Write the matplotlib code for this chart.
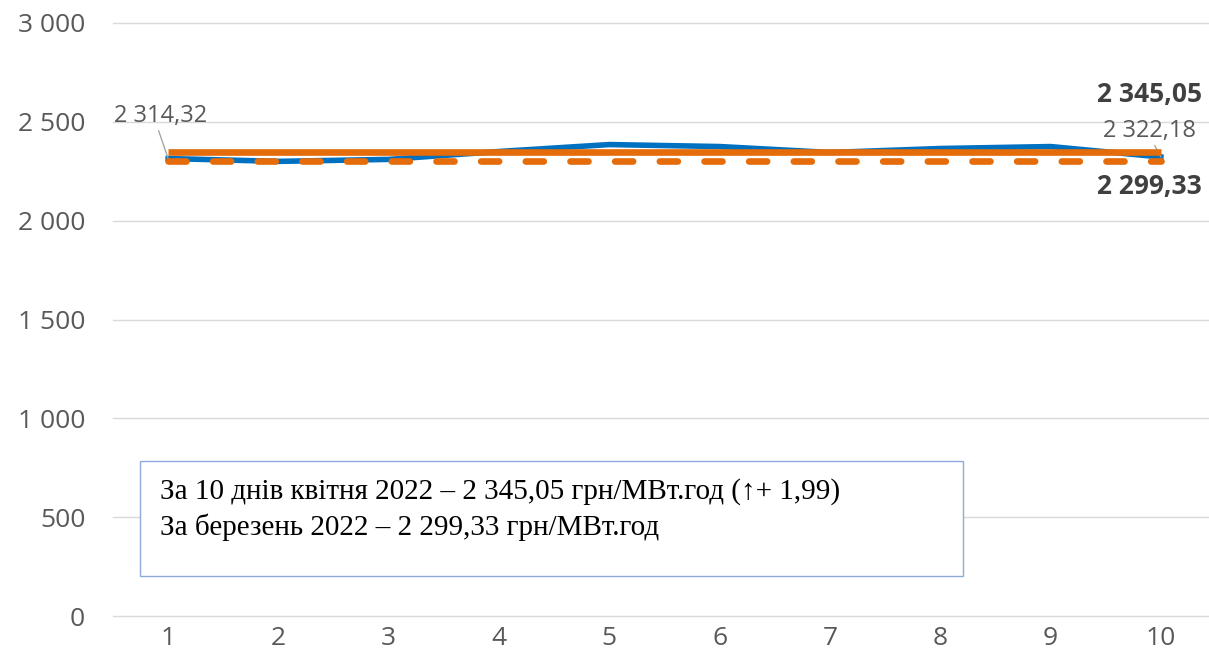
import matplotlib
matplotlib.use('Agg')
import matplotlib.pyplot as plt
from matplotlib.ticker import FuncFormatter

plt.rcParams['font.family'] = ['Open Sans', 'DejaVu Sans']

# data
days = [1, 2, 3, 4, 5, 6, 7, 8, 9, 10]
daily_price = [2314.32, 2300, 2310, 2350, 2385, 2375, 2345, 2365, 2375, 2322.18]
april_avg = 2345.05
march_avg = 2299.33
y_ticks = [0, 500, 1000, 1500, 2000, 2500, 3000]
note_lines = ['За 10 днів квітня 2022 – 2 345,05 грн/МВт.год (↑+ 1,99)',
              'За березень 2022 – 2 299,33 грн/МВт.год']

blue = '#0070C0'
orange = '#E46C0A'
gray = '#595959'


def fmt(v):
    return f'{v:,.2f}'.replace(',', ' ').replace('.', ',')


fig = plt.figure(figsize=(12.09, 6.70), dpi=100)
ax = fig.add_axes([113 / 1209, 54 / 670, 1 - 113 / 1209, (616 - 23) / 670])

ax.plot(days, daily_price, color=blue, lw=4.0, solid_joinstyle='round', zorder=3)
ax.plot(days, [april_avg] * len(days), color=orange, lw=4.8, solid_capstyle='butt', zorder=4)
ax.plot(days, [march_avg] * len(days), color=orange, lw=4.8,
        dashes=(2.7, 4.0), dash_capstyle='round', zorder=4)

ax.set_xlim(0.5, 10.5 - 7 / 110.3)
ax.set_ylim(0, 3000)
ax.set_yticks(y_ticks)
ax.set_xticks(days)
ax.yaxis.set_major_formatter(FuncFormatter(lambda v, p: f'{int(v):,}'.replace(',', ' ')))
ax.grid(axis='y', color='#D9D9D9', lw=1)
for gl in ax.get_ygridlines():
    gl.set_clip_on(False)
ax.set_axisbelow(True)
for s in ax.spines.values():
    s.set_visible(False)
ax.tick_params(length=0, labelsize=19, labelcolor=gray)
ax.tick_params(axis='x', pad=7)
ax.tick_params(axis='y', pad=20)

# data labels
lead = dict(arrowstyle='-', color='#A6A6A6', lw=1, shrinkA=0, shrinkB=0)
ax.annotate(fmt(daily_price[0]), xy=(days[0], daily_price[0]), xytext=(0.93, 2530),
            ha='center', va='center', fontsize=17, color=gray,
            arrowprops=dict(lead, relpos=(0.47, 0)))
ax.annotate(fmt(daily_price[-1]), xy=(days[-1], daily_price[-1]), xytext=(9.9, 2455),
            ha='center', va='center', fontsize=17, color=gray,
            arrowprops=dict(lead, relpos=(0.4, 1.0)))
ax.text(9.9, 2640, fmt(april_avg), ha='center', va='center',
        fontsize=19, fontweight='bold', color='#404040')
ax.text(9.9, 2175, fmt(march_avg), ha='center', va='center',
        fontsize=19, fontweight='bold', color='#404040')

# note box
box = plt.Rectangle((140 / 1209, (670 - 576) / 670), (963 - 140) / 1209, (576 - 461) / 670,
                    transform=fig.transFigure, fill=True, facecolor='white',
                    edgecolor='#8EAADB', lw=1, zorder=5)
fig.patches.append(box)
for i, line in enumerate(note_lines):
    fig.text(160 / 1209, (670 - 492 - 35 * i) / 670, line,
             family=['Liberation Serif', 'DejaVu Serif'],
             fontsize=21, va='center', ha='left', color='black', zorder=6)

fig.savefig('out.png', dpi=100)
